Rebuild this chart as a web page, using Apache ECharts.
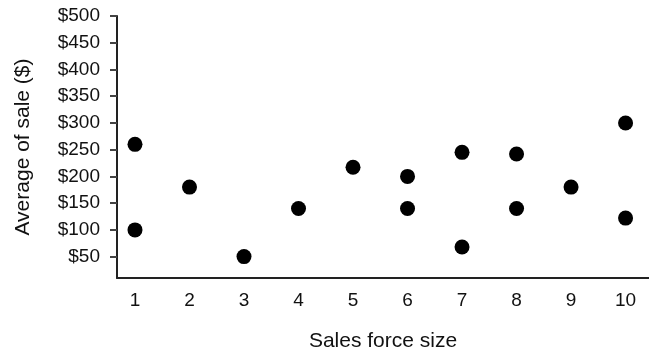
<!DOCTYPE html>
<html><head><meta charset="utf-8">
<script src="https://cdn.jsdelivr.net/npm/echarts@6/dist/echarts.min.js"></script>
<style>html,body{margin:0;padding:0;background:#fff}#c{width:649px;height:354px}</style>
</head><body><div id="c"></div>
<script>
const salesForceSize = [1, 1, 2, 3, 4, 5, 6, 6, 7, 7, 8, 8, 9, 10, 10];
const averageSale   = [260, 100, 180, 50, 140, 217, 200, 140, 245, 68, 242, 140, 180, 300, 122];
const xTicks = [1, 2, 3, 4, 5, 6, 7, 8, 9, 10];
const yTicks = [50, 100, 150, 200, 250, 300, 350, 400, 450, 500];
const xTitle = 'Sales force size';
const yTitle = 'Average of sale ($)';

const FONT = "'Liberation Sans', Arial, sans-serif";
const chart = echarts.init(document.getElementById('c'), null, {renderer: 'canvas'});
chart.setOption({
  animation: false,
  grid: {left: 117, right: 0, top: 16, bottom: 76, outerBoundsMode: 'none', containLabel: false},
  xAxis: {
    type: 'value', min: 0.67, max: 10.43,
    name: xTitle, nameLocation: 'middle', nameGap: 53,
    nameTextStyle: {fontFamily: FONT, fontSize: 21, color: '#111'},
    axisLine: {show: true, lineStyle: {color: '#222', width: 2}},
    axisTick: {show: false},
    splitLine: {show: false},
    axisLabel: {customValues: xTicks, fontFamily: FONT, fontSize: 19, color: '#111', margin: 13}
  },
  yAxis: {
    type: 'value', min: 10, max: 500,
    name: yTitle, nameLocation: 'middle', nameGap: 83,
    nameTextStyle: {fontFamily: FONT, fontSize: 21, color: '#111'},
    axisLine: {show: true, lineStyle: {color: '#222', width: 2}},
    axisTick: {show: true, customValues: yTicks, length: 7, lineStyle: {color: '#444', width: 2}},
    splitLine: {show: false},
    axisLabel: {customValues: yTicks, fontFamily: FONT, fontSize: 19, color: '#111', margin: 17,
      formatter: v => '$' + v}
  },
  series: [{
    type: 'scatter', symbol: 'circle', symbolSize: 15,
    itemStyle: {color: '#000', opacity: 1},
    data: salesForceSize.map((x, i) => [x, averageSale[i]])
  }]
});
</script></body></html>
